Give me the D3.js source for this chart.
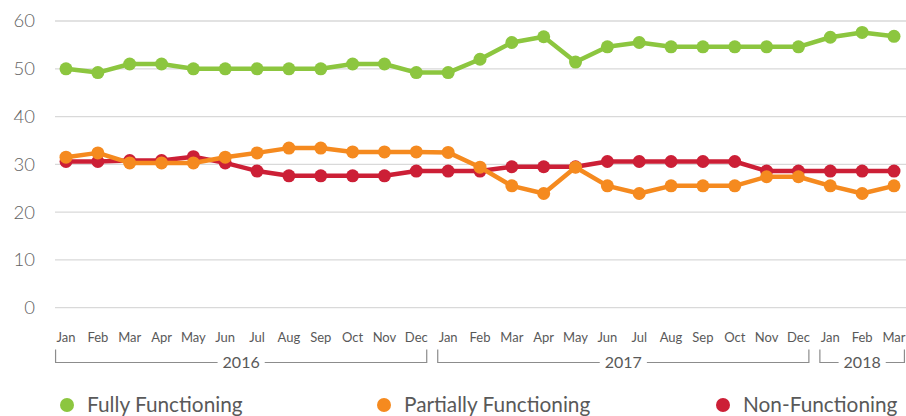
<!DOCTYPE html>
<html>
<head>
<meta charset="utf-8">
<script src="https://cdn.jsdelivr.net/npm/d3@7"></script>
<style>
  body { margin: 0; background: #fff; }
  svg { font-family: "Lato", "Open Sans", sans-serif; }
</style>
</head>
<body>
<svg id="chart" width="906" height="416"></svg>
<script>
const months = ["Jan","Feb","Mar","Apr","May","Jun","Jul","Aug","Sep","Oct","Nov","Dec",
                "Jan","Feb","Mar","Apr","May","Jun","Jul","Aug","Sep","Oct","Nov","Dec",
                "Jan","Feb","Mar"];
const years = [
  { label: "2016", from: 0, to: 11 },
  { label: "2017", from: 12, to: 23 },
  { label: "2018", from: 24, to: 26 }
];
const fully = [50, 49.2, 51, 51, 50, 50, 50, 50, 50, 51, 51, 49.2,
               49.2, 52, 55.5, 56.7, 51.4, 54.6, 55.5, 54.6, 54.6, 54.6, 54.6, 54.6,
               56.6, 57.6, 56.8];
const partially = [31.5, 32.4, 30.3, 30.3, 30.3, 31.5, 32.4, 33.4, 33.4, 32.6, 32.6, 32.6,
                   32.5, 29.4, 25.5, 23.9, 29.4, 25.5, 23.9, 25.5, 25.5, 25.5, 27.4, 27.4,
                   25.5, 23.9, 25.5];
const nonFunc = [30.6, 30.6, 30.8, 30.8, 31.6, 30.3, 28.6, 27.6, 27.6, 27.6, 27.6, 28.6,
                 28.6, 28.6, 29.5, 29.5, 29.5, 30.6, 30.6, 30.6, 30.6, 30.6, 28.6, 28.6,
                 28.6, 28.6, 28.6];
const yTicks = [0, 10, 20, 30, 40, 50, 60];

const series = [
  { name: "Fully Functioning", values: fully, color: "#8cc63f" },
  { name: "Partially Functioning", values: partially, color: "#f58a1f" },
  { name: "Non-Functioning", values: nonFunc, color: "#cc1f36" }
];

const svg = d3.select("#chart");
const plotLeft = 55, plotRight = 906;

const x = d3.scalePoint().domain(d3.range(months.length)).range([66, 894]);
const y = d3.scaleLinear().domain([0, 60]).range([307.7, 21]);
const step = x.step();

// gridlines
svg.append("g").selectAll("line")
  .data(yTicks).enter().append("line")
  .attr("x1", plotLeft).attr("x2", plotRight)
  .attr("y1", d => y(d)).attr("y2", d => y(d))
  .attr("stroke", "#d9d9d9").attr("stroke-width", 1.3);

// y labels
svg.append("g").selectAll("text")
  .data(yTicks).enter().append("text")
  .attr("x", 35).attr("y", d => y(d))
  .attr("dy", "0.35em")
  .attr("text-anchor", "end")
  .attr("fill", "#636363")
  .attr("font-size", 18.5)
  .attr("font-weight", 300)
  .text(d => d);

// month labels
svg.append("g").selectAll("text")
  .data(months).enter().append("text")
  .attr("x", (d, i) => x(i)).attr("y", 342)
  .attr("text-anchor", "middle")
  .attr("fill", "#595959")
  .attr("font-size", 13)
  .text(d => d);

// year brackets
const yb = 362.5;
years.forEach(yr => {
  const x0 = x(yr.from) - step / 2 + 5.5;
  const x1 = x(yr.to) + step / 2 - 5.5;
  const g = svg.append("g");
  const t = g.append("text")
    .attr("x", (x0 + x1) / 2).attr("y", yb + 5.5)
    .attr("text-anchor", "middle")
    .attr("fill", "#595959")
    .attr("font-size", 16)
    .text(yr.label);
  const w = t.node().getComputedTextLength();
  const gap = w / 2 + 5;
  const cx = (x0 + x1) / 2;
  const path = `M${x0},${yb - 13}V${yb}H${cx - gap}M${cx + gap},${yb}H${x1}V${yb - 13}`;
  g.append("path").attr("d", path)
    .attr("fill", "none").attr("stroke", "#8c8c8c").attr("stroke-width", 1.2);
});

// lines + dots
const line = d3.line().x((d, i) => x(i)).y(d => y(d));
series.slice().reverse().forEach(s => {
  const g = svg.append("g");
  g.append("path").datum(s.values)
    .attr("d", line)
    .attr("fill", "none")
    .attr("stroke", s.color)
    .attr("stroke-width", 4.5)
    .attr("stroke-linejoin", "round");
  g.selectAll("circle").data(s.values).enter().append("circle")
    .attr("cx", (d, i) => x(i)).attr("cy", d => y(d))
    .attr("r", 6.5)
    .attr("fill", s.color);
});

// legend
const legendX = [67, 384, 723];
const legend = svg.append("g").selectAll("g")
  .data(series).enter().append("g")
  .attr("transform", (d, i) => `translate(${legendX[i]},405)`);
legend.append("circle").attr("r", 7).attr("fill", d => d.color);
legend.append("text")
  .attr("x", 20).attr("dy", "0.35em")
  .attr("fill", "#595959")
  .attr("font-size", 20.8)
  .text(d => d.name);
</script>
</body>
</html>
